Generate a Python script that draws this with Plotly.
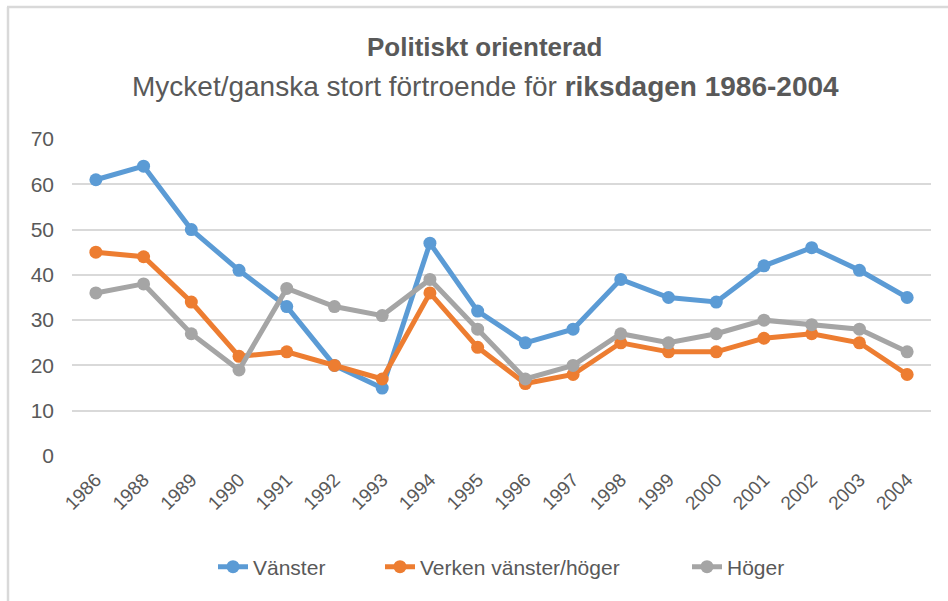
import plotly.graph_objects as go

years = ["1986", "1988", "1989", "1990", "1991", "1992", "1993", "1994", "1995",
         "1996", "1997", "1998", "1999", "2000", "2001", "2002", "2003", "2004"]
vanster = [61, 64, 50, 41, 33, 20, 15, 47, 32, 25, 28, 39, 35, 34, 42, 46, 41, 35]
verken = [45, 44, 34, 22, 23, 20, 17, 36, 24, 16, 18, 25, 23, 23, 26, 27, 25, 18]
hoger = [36, 38, 27, 19, 37, 33, 31, 39, 28, 17, 20, 27, 25, 27, 30, 29, 28, 23]

series = [("Vänster", vanster, "#5B9BD5", "legend", 253),
          ("Verken vänster/höger", verken, "#ED7D31", "legend2", 420),
          ("Höger", hoger, "#A5A5A5", "legend3", 727)]

FONT = "Liberation Sans"
L, R, T, B = 72, 17, 139, 145
W, H = 948, 601
pw, ph = W - L - R, H - T - B

def px(x):
    return (x - L) / pw

def py(y):
    return (H - B - y) / ph

fig = go.Figure()
legends = {}
for name, vals, col, lg, tx in series:
    fig.add_trace(go.Scatter(x=years, y=vals, name=name, mode="lines+markers",
                             legend=lg,
                             line=dict(color=col, width=5),
                             marker=dict(color=col, size=13)))
    legends[lg] = dict(orientation="h", x=px(tx - 40), xanchor="left", y=py(567),
                       yanchor="middle", font=dict(size=21, color="#595959"),
                       bgcolor="rgba(0,0,0,0)")

fig.update_layout(
    width=W, height=H,
    margin=dict(l=L, r=R, t=T, b=B),
    paper_bgcolor="white", plot_bgcolor="white",
    font=dict(family=FONT, color="#595959"),
    xaxis=dict(type="category", range=[-0.5, 17.5], tickangle=-45,
               showgrid=False, showline=False, ticks="",
               ticklabelstandoff=8,
               tickfont=dict(size=19, color="#595959")),
    yaxis=dict(range=[0, 70], dtick=10, showgrid=True, gridcolor="#D9D9D9",
               gridwidth=2, zeroline=False, showline=False, ticks="",
               ticklabelstandoff=17,
               tickfont=dict(size=21, color="#595959")),
    showlegend=True,
    **legends,
)

fig.add_annotation(text="<b>Politiskt orienterad</b>", xref="paper", yref="paper",
                   x=px(485), y=py(47), yanchor="middle", showarrow=False,
                   font=dict(size=26, color="#595959", family=FONT))
fig.add_annotation(text="Mycket/ganska stort förtroende för <b>riksdagen 1986-2004</b>",
                   xref="paper", yref="paper", x=px(485), y=py(87), yanchor="middle",
                   showarrow=False,
                   font=dict(size=28, color="#595959", family=FONT))

fig.add_shape(type="line", xref="paper", yref="paper",
              x0=px(7), x1=px(948), y0=py(7), y1=py(7),
              line=dict(color="#D9D9D9", width=2.5), layer="below")
fig.add_shape(type="line", xref="paper", yref="paper",
              x0=px(8), x1=px(8), y0=py(7), y1=py(601),
              line=dict(color="#D9D9D9", width=2.5), layer="below")

fig.write_html("out.html", config={"displayModeBar": False},
               post_script="document.body.style.margin='0';document.body.style.padding='0';")
